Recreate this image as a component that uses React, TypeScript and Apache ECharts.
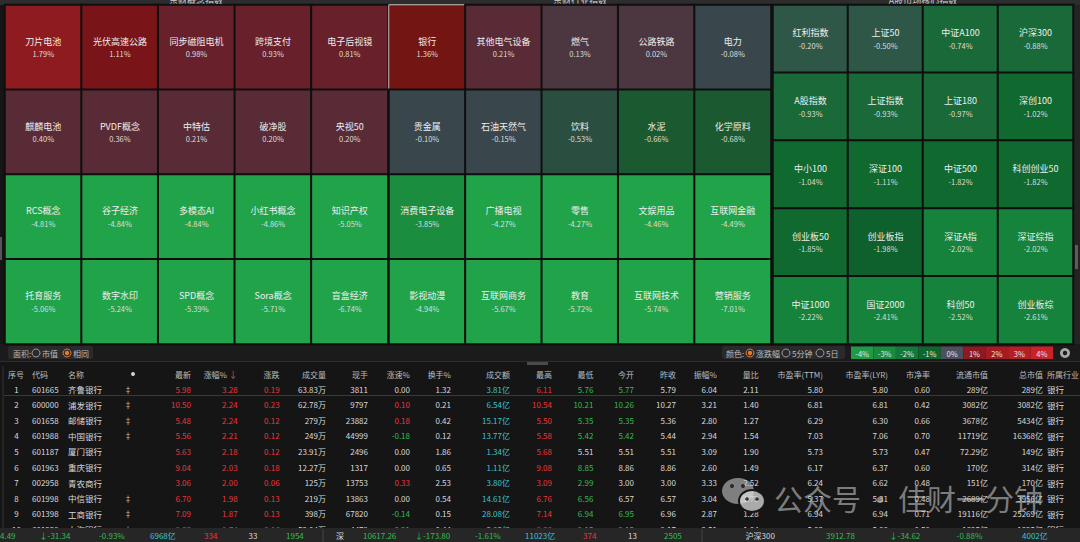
import React, { useEffect, useRef } from 'react';
import * as echarts from 'echarts';

const FONT = '"Noto Sans CJK SC", "Noto Sans", sans-serif';

// ---------- heatmap data ----------
const panelTitles = ['东财概念指数', '东财行业指数', 'A股市场核心指数'];

const conceptNames = ['刀片电池', '光伏高速公路', '同步磁阻电机', '跨境支付', '电子后视镜', '麒麟电池', 'PVDF概念', '中特估', '破净股', '央视50', 'RCS概念', '谷子经济', '多模态AI', '小红书概念', '知识产权', '托育服务', '数字水印', 'SPD概念', 'Sora概念', '盲盒经济'];
const conceptChg = [1.79, 1.11, 0.98, 0.93, 0.81, 0.40, 0.36, 0.21, 0.20, 0.20, -4.81, -4.84, -4.84, -4.86, -5.05, -5.06, -5.24, -5.39, -5.71, -6.74];

const industryNames = ['银行', '其他电气设备', '燃气', '公路铁路', '电力', '贵金属', '石油天然气', '饮料', '水泥', '化学原料', '消费电子设备', '广播电视', '零售', '文娱用品', '互联网金融', '影视动漫', '互联网商务', '教育', '互联网技术', '营销服务'];
const industryChg = [1.36, 0.21, 0.13, 0.02, -0.08, -0.10, -0.15, -0.53, -0.66, -0.68, -3.85, -4.27, -4.27, -4.46, -4.49, -4.94, -5.67, -5.72, -5.74, -7.01];

const indexNames = ['红利指数', '上证50', '中证A100', '沪深300', 'A股指数', '上证指数', '上证180', '深创100', '中小100', '深证100', '中证500', '科创创业50', '创业板50', '创业板指', '深证A指', '深证综指', '中证1000', '国证2000', '科创50', '创业板综'];
const indexChg = [-0.20, -0.50, -0.74, -0.88, -0.93, -0.93, -0.97, -1.02, -1.04, -1.11, -1.82, -1.82, -1.85, -1.98, -2.02, -2.02, -2.22, -2.41, -2.52, -2.61];

const selectedTile = '银行';

const legendLabels = ['-4%', '-3%', '-2%', '-1%', '0%', '1%', '2%', '3%', '4%'];

// ---------- table data ----------
const headers = ['序号', '代码', '名称', '●', '最新', '涨幅%', '涨跌', '成交量', '现手', '涨速%', '换手%', '成交额', '最高', '最低', '今开', '昨收', '振幅%', '量比', '市盈率(TTM)', '市盈率(LYR)', '市净率', '流通市值', '总市值', '所属行业'];
const seqNo = [1, 2, 3, 4, 5, 6, 7, 8, 9, 10];
const codes = ['601665', '600000', '601658', '601988', '601187', '601963', '002958', '601998', '601398', '601229'];
const stockNames = ['齐鲁银行', '浦发银行', '邮储银行', '中国银行', '厦门银行', '重庆银行', '青农商行', '中信银行', '工商银行', '上海银行'];
const hasMark = [true, true, true, true, false, false, false, true, true, true];
const latest = [5.98, 10.50, 5.48, 5.56, 5.63, 9.04, 3.06, 6.70, 7.09, 9.33];
const pctChg = [3.28, 2.24, 2.24, 2.21, 2.18, 2.03, 2.00, 1.98, 1.87, 1.74];
const change = [0.19, 0.23, 0.12, 0.12, 0.12, 0.18, 0.06, 0.13, 0.13, 0.16];
const volume = ['63.83万', '62.78万', '279万', '249万', '23.91万', '12.27万', '125万', '219万', '398万', '52.04万'];
const curHand = [3811, 9797, 23882, 44999, 2496, 1317, 13753, 13863, 67820, 4479];
const speed = [0.00, 0.10, 0.18, -0.18, 0.00, 0.00, 0.33, 0.00, -0.14, -0.21];
const turnover = [1.32, 0.21, 0.42, 0.12, 1.86, 0.65, 2.53, 0.54, 0.15, 0.44];
const amount = ['3.81亿', '6.54亿', '15.17亿', '13.77亿', '1.34亿', '1.11亿', '3.80亿', '14.61亿', '28.08亿', '5.85亿'];
const high = [6.11, 10.54, 5.50, 5.58, 5.68, 9.08, 3.09, 6.76, 7.14, 9.38];
const low = [5.76, 10.21, 5.35, 5.42, 5.51, 8.85, 2.99, 6.56, 6.94, 9.15];
const openPx = [5.77, 10.26, 5.35, 5.42, 5.51, 8.86, 3.00, 6.57, 6.95, 9.15];
const prevClose = [5.79, 10.27, 5.36, 5.44, 5.51, 8.86, 3.00, 6.57, 6.96, 9.17];
const amplitude = [6.04, 3.21, 2.80, 2.94, 3.09, 2.60, 3.33, 3.04, 2.87, 2.51];
const volRatio = [2.11, 1.40, 1.27, 1.54, 1.90, 1.49, 2.52, 1.79, 1.28, 1.04];
const peTTM = [5.80, 6.81, 6.29, 7.03, 5.73, 6.17, 6.24, 5.37, 6.94, 5.83];
const peLYR = [5.80, 6.81, 6.30, 7.06, 5.73, 6.37, 6.62, 5.31, 6.94, 5.88];
const pb = [0.60, 0.42, 0.66, 0.70, 0.47, 0.60, 0.48, 0.48, 0.71, 0.59];
const floatCap = ['289亿', '3082亿', '3678亿', '11719亿', '72.29亿', '170亿', '151亿', '2689亿', '19116亿', '1325亿'];
const totalCap = ['289亿', '3082亿', '5434亿', '16368亿', '149亿', '314亿', '170亿', '3956亿', '25269亿', '1325亿'];
const industry = ['银行', '银行', '银行', '银行', '银行', '银行', '银行', '银行', '银行', '银行'];

// ---------- status bar ----------
const statusTexts = ['4.49', '↓-31.34', '-0.93%', '6968亿', '334', '33', '1954', '深', '10617.26', '↓-173.80', '-1.61%', '11023亿', '374', '13', '2505', '沪深300', '3912.78', '↓-34.62', '-0.88%', '4002亿'];
const statusKinds = ['g', 'g', 'g', 'c', 'r', 'w', 'g', 'w', 'g', 'g', 'g', 'c', 'r', 'w', 'g', 'w', 'g', 'g', 'g', 'c'];

// ---------- layout / styles ----------
const RED = '#e8363c';
const GREEN = '#33bd4e';
const CYAN = '#3bc3d4';
const WHITE = '#d8d8d8';
const HEAD = '#bdbdbd';

const grids = [
  { left: 5, top: 5, width: 383, height: 339 },
  { left: 389, top: 5, width: 382, height: 339 },
  { left: 773, top: 5, width: 300, height: 339 },
];
const dims = [[5, 4], [5, 4], [4, 5]];
const titleX = [196, 580, 923];
const legendColors = ['#1f9a45', '#1a8a3d', '#13793a', '#0c682d', '#4d4f5c', '#8c1a20', '#a41b21', '#b61d24', '#c92329'];
const statusX = [0, 39.6, 99, 150, 204, 248.6, 286, 336, 363, 415, 475, 525, 583, 628, 664, 745.6, 826, 889.5, 956.6, 1022];

// column anchors: [x, align]
const colAnchor: [number, string][] = [
  [16.5, 'center'], [32, 'left'], [68, 'left'], [128, 'center'], [191, 'right'], [237.6, 'right'],
  [279.6, 'right'], [326, 'right'], [368, 'right'], [410, 'right'], [451, 'right'], [510, 'right'],
  [552, 'right'], [593.4, 'right'], [634, 'right'], [676, 'right'], [717, 'right'], [758.7, 'right'],
  [823, 'right'], [888, 'right'], [930, 'right'], [988, 'right'], [1043, 'right'], [1047, 'left'],
];
const HEADER_Y = 374;
const ROW_Y0 = 389;
const ROW_STEP = 15.6;

function txt(text: string, x: number, y: number, fill: string, size = 8, align = 'left', extra: any = {}) {
  return {
    type: 'text', x, y, silent: true, ...extra,
    style: {
      text, fill, font: `${size}px ${FONT}`,
      textAlign: align, align, textVerticalAlign: extra.va || 'middle', verticalAlign: extra.va || 'middle',
    },
  };
}

function cmpColor(v: number, ref: number) {
  if (v > ref) return RED;
  if (v < ref) return GREEN;
  return WHITE;
}
function signColor(v: number) {
  return v > 0 ? RED : v < 0 ? GREEN : WHITE;
}

function buildGraphic() {
  const els: any[] = [];
  // top title bar
  els.push({ type: 'rect', shape: { x: 0, y: 0, width: 1080, height: 5 }, style: { fill: '#2d2d2d' }, silent: true });
  panelTitles.forEach((t, i) => els.push(txt(t, titleX[i], 5, '#cfcfcf', 9, 'center', { va: 'bottom' })));
  // panel separator + side bars
  els.push({ type: 'rect', shape: { x: 771, y: 5, width: 2, height: 339 }, style: { fill: '#3a3a3a' }, silent: true });
  els.push({ type: 'rect', shape: { x: 1073, y: 5, width: 7, height: 339 }, style: { fill: '#242424' }, silent: true });
  els.push({ type: 'rect', shape: { x: 1075, y: 245, width: 3, height: 24 }, style: { fill: '#5c5c5c' }, silent: true });
  els.push({ type: 'rect', shape: { x: 0, y: 237, width: 2, height: 23 }, style: { fill: '#555' }, silent: true });

  // toolbar
  els.push({ type: 'rect', shape: { x: 0, y: 344, width: 1080, height: 17 }, style: { fill: '#1b1b1b' }, silent: true });
  els.push({ type: 'rect', shape: { x: 8, y: 346, width: 85, height: 13, r: 2 }, style: { fill: '#2a2a2a' }, silent: true });
  els.push(txt('面积:', 13, 353, '#bbbbbb', 8));
  els.push({ type: 'circle', shape: { cx: 36, cy: 353, r: 4 }, style: { fill: 'none', stroke: '#9a9a9a', lineWidth: 1 }, silent: true });
  els.push(txt('市值', 42, 353, '#bbbbbb', 8));
  els.push({ type: 'circle', shape: { cx: 67, cy: 353, r: 4 }, style: { fill: 'none', stroke: '#e07b2e', lineWidth: 1 }, silent: true });
  els.push({ type: 'circle', shape: { cx: 67, cy: 353, r: 2.2 }, style: { fill: '#e07b2e' }, silent: true });
  els.push(txt('相同', 73, 353, '#bbbbbb', 8));

  els.push({ type: 'rect', shape: { x: 722, y: 346, width: 123, height: 13, r: 2 }, style: { fill: '#2a2a2a' }, silent: true });
  els.push(txt('颜色:', 726, 353, '#bbbbbb', 8));
  els.push({ type: 'circle', shape: { cx: 750, cy: 353, r: 4 }, style: { fill: 'none', stroke: '#e07b2e', lineWidth: 1 }, silent: true });
  els.push({ type: 'circle', shape: { cx: 750, cy: 353, r: 2.2 }, style: { fill: '#e07b2e' }, silent: true });
  els.push(txt('涨跌幅', 756, 353, '#bbbbbb', 8));
  els.push({ type: 'circle', shape: { cx: 786, cy: 353, r: 4 }, style: { fill: 'none', stroke: '#9a9a9a', lineWidth: 1 }, silent: true });
  els.push(txt('5分钟', 792, 353, '#bbbbbb', 8));
  els.push({ type: 'circle', shape: { cx: 820, cy: 353, r: 4 }, style: { fill: 'none', stroke: '#9a9a9a', lineWidth: 1 }, silent: true });
  els.push(txt('5日', 826, 353, '#bbbbbb', 8));

  legendLabels.forEach((l, i) => {
    const x = 851 + i * 22.45;
    els.push({ type: 'rect', shape: { x, y: 346.5, width: 22.45, height: 12.5 }, style: { fill: legendColors[i] }, silent: true });
    els.push(txt(l, x + 11.2, 353, '#e6e6e6', 7.5, 'center'));
  });
  els.push({ type: 'ring', shape: { cx: 1065, cy: 353, r: 5, r0: 2.2 }, style: { fill: '#a8a8a8' }, silent: true });

  // separator under toolbar
  els.push({ type: 'line', shape: { x1: 0, y1: 361.5, x2: 1080, y2: 361.5 }, style: { stroke: '#2e2e2e', lineWidth: 1 }, silent: true });
  els.push({ type: 'rect', shape: { x: 527, y: 362, width: 21, height: 3 }, style: { fill: '#4a4a4a' }, silent: true });
  els.push({ type: 'line', shape: { x1: 3, y1: 366, x2: 3, y2: 528 }, style: { stroke: '#343434', lineWidth: 1 }, silent: true });

  // header
  headers.forEach((h, i) => {
    const [x, align] = colAnchor[i];
    if (h === '●') {
      els.push({ type: 'circle', shape: { cx: 133, cy: HEADER_Y, r: 2 }, style: { fill: '#d0d0d0' }, silent: true });
    } else if (h === '涨幅%') {
      els.push(txt(h, 227, HEADER_Y, HEAD, 8, 'right'));
      els.push(txt('↓', 233, HEADER_Y, '#e0463a', 9, 'center'));
    } else {
      els.push(txt(h, i === 0 ? 8 : x, HEADER_Y, HEAD, 8, i === 0 ? 'left' : align));
    }
  });

  // rows
  seqNo.forEach((s, r) => {
    const y = ROW_Y0 + r * ROW_STEP;
    const p = prevClose[r];
    const cells: [string, string][] = [
      [String(s), WHITE],
      [codes[r], WHITE],
      [stockNames[r], WHITE],
      [hasMark[r] ? '‡' : '', '#bbbbbb'],
      [latest[r].toFixed(2), cmpColor(latest[r], p)],
      [pctChg[r].toFixed(2), signColor(pctChg[r])],
      [change[r].toFixed(2), signColor(change[r])],
      [volume[r], WHITE],
      [String(curHand[r]), WHITE],
      [speed[r].toFixed(2), signColor(speed[r])],
      [turnover[r].toFixed(2), WHITE],
      [amount[r], CYAN],
      [high[r].toFixed(2), cmpColor(high[r], p)],
      [low[r].toFixed(2), cmpColor(low[r], p)],
      [openPx[r].toFixed(2), cmpColor(openPx[r], p)],
      [p.toFixed(2), WHITE],
      [amplitude[r].toFixed(2), WHITE],
      [volRatio[r].toFixed(2), WHITE],
      [peTTM[r].toFixed(2), WHITE],
      [peLYR[r].toFixed(2), WHITE],
      [pb[r].toFixed(2), WHITE],
      [floatCap[r], WHITE],
      [totalCap[r], WHITE],
      [industry[r], WHITE],
    ];
    cells.forEach(([t, c], i) => {
      if (!t) return;
      const [x, align] = colAnchor[i];
      els.push(txt(t, x, y, c, i === 2 || i === 23 ? 8.5 : 8, align));
    });
  });
  els.push({ type: 'line', shape: { x1: 4, y1: 395.5, x2: 1080, y2: 395.5 }, style: { stroke: '#3a3a3a', lineWidth: 1 }, silent: true });

  // watermark
  const wm = 'rgba(205,205,205,0.58)';
  els.push({ type: 'ellipse', shape: { cx: 738, cy: 491, rx: 16, ry: 13 }, style: { fill: wm }, silent: true, z: 5 });
  els.push({ type: 'circle', shape: { cx: 732, cy: 486, r: 2 }, style: { fill: '#2a2a2a' }, silent: true, z: 5 });
  els.push({ type: 'circle', shape: { cx: 743, cy: 486, r: 2 }, style: { fill: '#2a2a2a' }, silent: true, z: 5 });
  els.push({ type: 'ellipse', shape: { cx: 752, cy: 501, rx: 13, ry: 11 }, style: { fill: 'rgba(220,220,220,0.75)', stroke: '#161616', lineWidth: 2 }, silent: true, z: 5 });
  els.push({ type: 'circle', shape: { cx: 747, cy: 499, r: 1.8 }, style: { fill: '#333' }, silent: true, z: 5 });
  els.push({ type: 'circle', shape: { cx: 757, cy: 499, r: 1.8 }, style: { fill: '#333' }, silent: true, z: 5 });
  els.push(txt('公众号', 774, 498, wm, 29, 'left', { z: 5 }));
  els.push(txt('·', 880, 498, wm, 29, 'center', { z: 5 }));
  els.push(txt('佳财一分钟', 1043, 498, wm, 29, 'right', { z: 5 }));

  // status bar
  els.push({ type: 'rect', shape: { x: 0, y: 528, width: 1080, height: 14 }, style: { fill: '#262626' }, silent: true, z: 10 });
  els.push({ type: 'line', shape: { x1: 323, y1: 529, x2: 323, y2: 542 }, style: { stroke: '#444', lineWidth: 1 }, silent: true, z: 10 });
  els.push({ type: 'line', shape: { x1: 702, y1: 529, x2: 702, y2: 542 }, style: { stroke: '#444', lineWidth: 1 }, silent: true, z: 10 });
  const kindColor: any = { g: GREEN, r: RED, c: CYAN, w: WHITE };
  statusTexts.forEach((t, i) => {
    els.push(txt(t, statusX[i], 535.5, kindColor[statusKinds[i]], 8, 'left', { z: 10 }));
  });
  return els;
}

function heatData(names: string[], chg: number[], cols: number) {
  return names.map((n, k) => {
    const item: any = { name: n, value: [k % cols, Math.floor(k / cols), chg[k]] };
    if (n === selectedTile) item.itemStyle = { borderColor: '#c4c4c4', borderWidth: 1 };
    return item;
  });
}

export default function App() {
  const ref = useRef<HTMLDivElement>(null);
  useEffect(() => {
    if (!ref.current) return;
    const chart = echarts.init(ref.current, null, { renderer: 'svg' });
    const panels = [
      [conceptNames, conceptChg],
      [industryNames, industryChg],
      [indexNames, indexChg],
    ] as [string[], number[]][];
    const range = (n: number) => Array.from({ length: n }, (_, i) => String(i));
    const option: any = {
      animation: false,
      backgroundColor: '#151515',
      grid: grids.map((g) => ({ ...g, containLabel: false })),
      xAxis: dims.map((d, i) => ({ type: 'category', gridIndex: i, data: range(d[0]), show: false })),
      yAxis: dims.map((d, i) => ({ type: 'category', gridIndex: i, data: range(d[1]), show: false, inverse: true })),
      visualMap: {
        type: 'piecewise',
        show: false,
        seriesIndex: [0, 1, 2],
        dimension: 2,
        pieces: [
          { gte: 1.5, color: '#8e1b1f' },
          { gte: 1.2, lt: 1.5, color: '#731513' },
          { gte: 1.0, lt: 1.2, color: '#791518' },
          { gte: 0.6, lt: 1.0, color: '#68202a' },
          { gte: 0.15, lt: 0.6, color: '#592b36' },
          { gte: 0, lt: 0.15, color: '#4c3640' },
          { gte: -0.18, lt: 0, color: '#39474d' },
          { gte: -0.52, lt: -0.18, color: '#2e5748' },
          { gte: -0.6, lt: -0.52, color: '#2a4f40' },
          { gte: -0.7, lt: -0.6, color: '#1b5a30' },
          { gte: -1.0, lt: -0.7, color: '#196a38' },
          { gte: -1.9, lt: -1.0, color: '#10692f' },
          { gte: -2.0, lt: -1.9, color: '#0e602c' },
          { gte: -3.0, lt: -2.0, color: '#16833c' },
          { gte: -4.0, lt: -3.0, color: '#1b8d3e' },
          { lt: -4.0, color: '#21a34a' },
        ],
      },
      series: panels.map(([names, chg], i) => ({
        type: 'heatmap',
        xAxisIndex: i,
        yAxisIndex: i,
        data: heatData(names, chg, dims[i][0]),
        itemStyle: { borderColor: '#0f0f0f', borderWidth: 2 },
        emphasis: { disabled: true },
        label: {
          show: true,
          formatter: (p: any) => `{n|${p.name}}\n{p|${p.value[2].toFixed(2)}%}`,
          rich: {
            n: { fontSize: 9, color: '#eeeeee', lineHeight: 13, fontFamily: FONT },
            p: { fontSize: 7.5, color: '#dddddd', lineHeight: 12, fontFamily: FONT },
          },
        },
      })),
      graphic: { elements: buildGraphic() },
    };
    chart.setOption(option);
    return () => chart.dispose();
  }, []);
  return <div ref={ref} style={{ position: 'fixed', left: 0, top: 0, width: 1080, height: 542 }} />;
}
